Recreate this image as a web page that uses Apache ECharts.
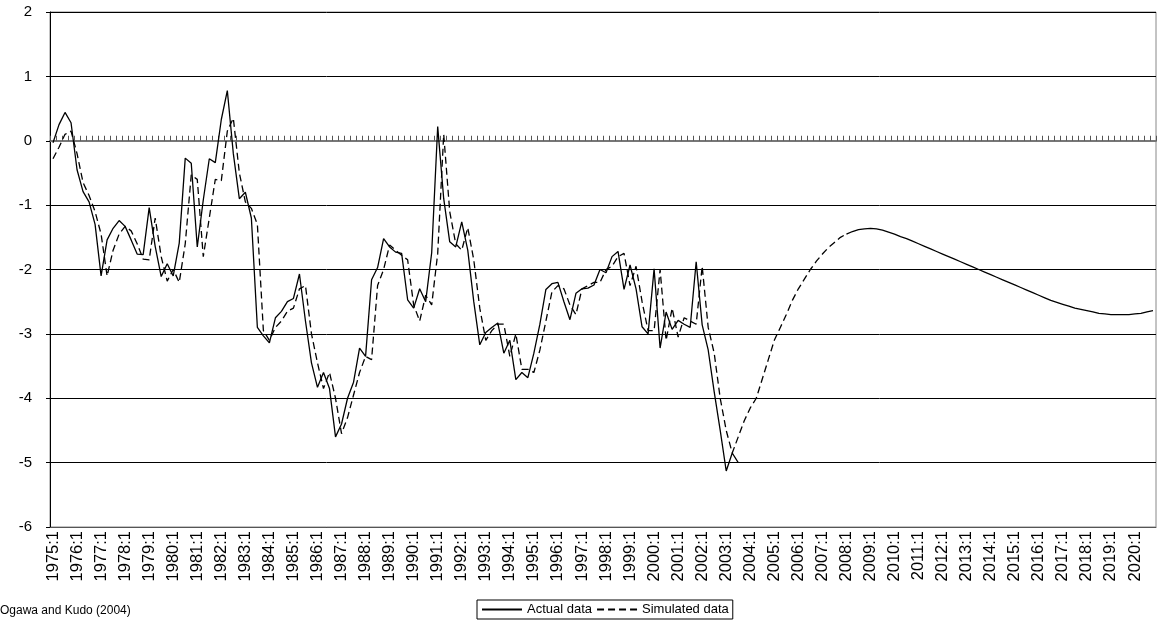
<!DOCTYPE html>
<html><head><meta charset="utf-8">
<script src="https://cdn.jsdelivr.net/npm/echarts@6/dist/echarts.min.js"></script>
<style>html,body{margin:0;padding:0;background:#fff}#c{width:1160px;height:635px}</style>
</head><body><div id="c"></div>
<script>
const categories = [];
for (let y = 1975; y <= 2020; y++) for (let q = 1; q <= 4; q++) categories.push(y + ':' + q);

const actualData = [-0.03,0.25,0.44,0.28,-0.45,-0.79,-0.95,-1.3,-2.1,-1.54,-1.36,-1.24,-1.33,-1.54,-1.76,-1.77,-1.04,-1.64,-2.11,-1.91,
-2.1,-1.59,-0.27,-0.35,-1.65,-0.92,-0.28,-0.34,0.33,0.78,-0.2,-0.9,-0.8,-1.2,-2.9,-3.03,-3.14,-2.75,-2.65,-2.5,
-2.45,-2.07,-2.8,-3.45,-3.83,-3.6,-3.85,-4.6,-4.4,-4.0,-3.75,-3.22,-3.35,-2.16,-1.97,-1.52,-1.65,-1.73,-1.75,-2.47,
-2.6,-2.3,-2.5,-1.74,0.22,-0.9,-1.57,-1.65,-1.26,-1.7,-2.5,-3.17,-2.98,-2.9,-2.83,-3.3,-3.1,-3.71,-3.6,-3.68,
-3.3,-2.85,-2.31,-2.22,-2.2,-2.5,-2.78,-2.37,-2.3,-2.29,-2.24,-2.0,-2.05,-1.8,-1.72,-2.31,-1.93,-2.3,-2.89,-3.0,
-1.99,-3.22,-2.66,-2.93,-2.79,-2.85,-2.9,-1.88,-2.86,-3.25,-3.9,-4.5,-5.13,-4.85,-5.0];

const simulatedData = [-0.28,-0.1,0.1,0.15,-0.2,-0.65,-0.85,-1.1,-1.45,-2.1,-1.7,-1.45,-1.33,-1.4,-1.6,-1.84,-1.85,-1.2,-1.8,-2.18,
-2.0,-2.2,-1.6,-0.53,-0.6,-1.8,-1.2,-0.6,-0.62,0.15,0.35,-0.5,-0.95,-1.05,-1.3,-2.95,-3.1,-2.9,-2.8,-2.65,
-2.6,-2.3,-2.25,-3.0,-3.45,-3.85,-3.6,-4.0,-4.55,-4.3,-3.95,-3.6,-3.35,-3.4,-2.25,-2.0,-1.62,-1.7,-1.78,-1.85,
-2.55,-2.8,-2.4,-2.55,-1.75,0.1,-1.1,-1.6,-1.7,-1.35,-1.85,-2.6,-3.1,-2.95,-2.85,-2.85,-3.35,-3.0,-3.55,-3.55,
-3.6,-3.25,-2.8,-2.35,-2.25,-2.3,-2.55,-2.7,-2.3,-2.25,-2.2,-2.2,-2.0,-1.95,-1.8,-1.75,-2.25,-1.95,-2.5,-2.95,
-2.95,-2.0,-3.1,-2.6,-3.05,-2.75,-2.8,-2.85,-1.95,-2.9,-3.3,-4.0,-4.5,-4.85,-4.6,-4.35,-4.15,-4.0,-3.7,-3.4,
-3.1,-2.9,-2.7,-2.48,-2.3,-2.15,-2.0,-1.87,-1.76,-1.66,-1.58,-1.5,-1.45];

const projectionStart = 132;
const projectionData = [-1.45,-1.41,-1.38,-1.37,-1.36,-1.37,-1.39,-1.42,-1.45,-1.49,-1.52,-1.56,-1.6,-1.64,-1.68,-1.72,-1.76,-1.8,-1.84,-1.88,
-1.92,-1.96,-2.0,-2.04,-2.08,-2.12,-2.16,-2.2,-2.24,-2.28,-2.32,-2.36,-2.4,-2.44,-2.48,-2.51,-2.54,-2.57,-2.6,-2.62,
-2.64,-2.66,-2.68,-2.69,-2.7,-2.7,-2.7,-2.7,-2.69,-2.68,-2.66,-2.64];

const yTicks = [-6,-5,-4,-3,-2,-1,0,1,2];

const proj = categories.map((c, i) => i >= projectionStart ? projectionData[i - projectionStart] : null);

const chart = echarts.init(document.getElementById('c'));
const font = 'Liberation Sans, Arial, sans-serif';
chart.setOption({
  animation: false,
  grid: { left: 50, right: 4, top: 12, bottom: 108, show: true, borderColor: '#888', borderWidth: 1 },
  xAxis: [{
    type: 'category', data: categories, boundaryGap: true,
    axisLine: { onZero: false, lineStyle: { color: '#555' } },
    axisTick: { show: false },
    axisLabel: { rotate: 90, interval: 3, color: '#000', fontFamily: font, fontSize: 16.5, margin: 4 }
  }, {
    type: 'category', data: categories, boundaryGap: true, position: 'bottom',
    axisLine: { onZero: true, lineStyle: { color: '#777', width: 2 } },
    axisTick: { show: true, inside: true, interval: 0, length: 5, lineStyle: { color: '#555' } },
    axisLabel: { show: false }
  }],
  yAxis: {
    type: 'value', min: -6, max: 2, interval: 1,
    axisLine: { show: true, lineStyle: { color: '#000' } },
    axisTick: { show: true, length: 4, lineStyle: { color: '#000' } },
    splitLine: { lineStyle: { color: '#000', width: 1 } },
    axisLabel: { color: '#000', fontFamily: font, fontSize: 15, margin: 18,
      formatter: v => yTicks.includes(v) ? String(v) : '' }
  },
  legend: {
    data: ['Actual data', 'Simulated data'], left: 477, top: 600,
    borderColor: '#000', borderWidth: 1, padding: [3, 4], itemGap: 4, itemWidth: 40, itemHeight: 12,
    itemStyle: { opacity: 0 },
    textStyle: { color: '#000', fontFamily: font, fontSize: 13 }
  },
  series: [
    { name: 'Actual data', type: 'line', data: actualData, symbol: 'none', lineStyle: { color: '#000', width: 1.3 }, itemStyle: { color: '#000' } },
    { name: 'Simulated data', type: 'line', data: simulatedData, symbol: 'none', lineStyle: { color: '#000', width: 1.3, type: [7, 4] }, itemStyle: { color: '#000' } },
    { name: 'Projection', type: 'line', data: proj, symbol: 'none', lineStyle: { color: '#000', width: 1.3 } }
  ],
  graphic: [{ type: 'text', left: 0, top: 605, style: { text: 'Ogawa and Kudo (2004)', fontFamily: font, fontSize: 12, fill: '#000' } }]
});
</script></body></html>
